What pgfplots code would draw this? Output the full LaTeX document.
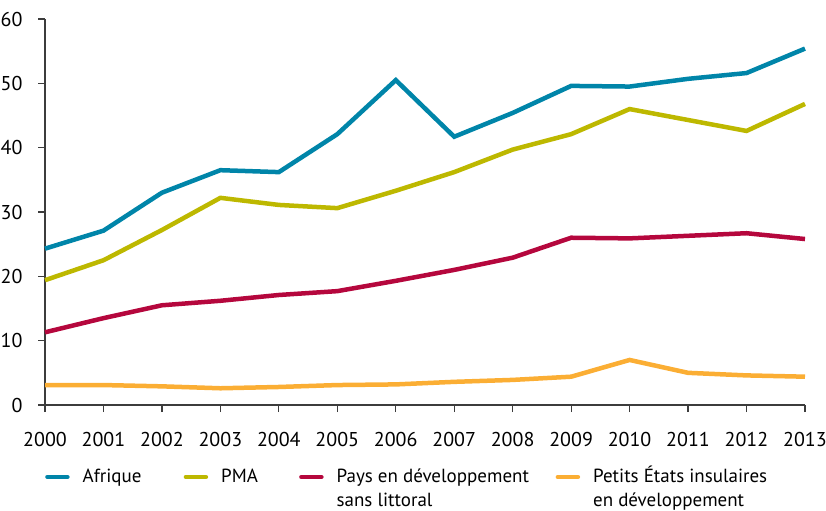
\documentclass[border=0pt]{standalone}
\usepackage{fontspec}
\setmainfont{PT Sans}
\usepackage{pgfplots}
\pgfplotsset{compat=1.18}
\definecolor{cAfr}{HTML}{0085A9}
\definecolor{cPMA}{HTML}{BDB800}
\definecolor{cPays}{HTML}{B5073D}
\definecolor{cPei}{HTML}{FBAE34}
\definecolor{cAx}{HTML}{3C3C3C}
\begin{document}
\fontsize{19bp}{24bp}\selectfont
\begin{tikzpicture}
\path[use as bounding box] (-45bp,-106bp) rectangle (781bp,405bp);
\begin{axis}[
  at={(0,0)}, anchor=south west,
  scale only axis, width=760bp, height=386bp,
  xmin=2000, xmax=2013, ymin=0, ymax=60,
  axis x line*=bottom, axis y line*=left,
  axis line style={cAx, line width=1.2bp},
  xtick={2000,...,2013}, ytick={0,10,...,60},
  tick align=outside, major tick length=7bp,
  tick style={cAx, line width=1.2bp},
  /pgf/number format/set thousands separator={},
  /pgf/number format/assume math mode=true,
  ticklabel style={font=\fontsize{20bp}{24bp}\selectfont, text=black},
  xticklabel style={yshift=-14bp},
  yticklabel style={xshift=-9bp},
  legend style={at={(0,-0.146)}, anchor=north west, xshift=-3bp, draw=none, fill=none,
    legend columns=4, column sep=0pt,
    cells={anchor=base west},
    font=\fontsize{19bp}{24bp}\selectfont},
  legend image code/.code={\draw[#1, line cap=round, line width=4.5bp] (0bp,0.27em) -- (20bp,0.27em); \path (31bp,0.27em);},
  every axis plot/.append style={line width=4.5bp, line join=miter},
  clip=false,
]
\addplot[cAfr] coordinates {(2000,24.3)(2001,27.1)(2002,33.0)(2003,36.5)(2004,36.2)(2005,42.1)(2006,50.5)(2007,41.7)(2008,45.4)(2009,49.6)(2010,49.5)(2011,50.7)(2012,51.6)(2013,55.4)};
\addlegendentry{\makebox[99bp][l]{Afrique}}
\addplot[cPMA] coordinates {(2000,19.4)(2001,22.5)(2002,27.2)(2003,32.2)(2004,31.1)(2005,30.6)(2006,33.3)(2007,36.2)(2008,39.7)(2009,42.1)(2010,46.0)(2011,44.3)(2012,42.6)(2013,46.8)};
\addlegendentry{\makebox[76bp][l]{PMA}}
\addplot[cPays] coordinates {(2000,11.3)(2001,13.5)(2002,15.5)(2003,16.2)(2004,17.1)(2005,17.7)(2006,19.3)(2007,21.0)(2008,22.9)(2009,26.0)(2010,25.9)(2011,26.3)(2012,26.7)(2013,25.8)};
\addlegendentry{\parbox[t]{217bp}{Pays en développement\\sans littoral}}
\addplot[cPei] coordinates {(2000,3.1)(2001,3.1)(2002,2.9)(2003,2.6)(2004,2.8)(2005,3.1)(2006,3.2)(2007,3.6)(2008,3.9)(2009,4.4)(2010,7.0)(2011,5.0)(2012,4.6)(2013,4.4)};
\addlegendentry{\parbox[t]{200bp}{Petits États insulaires\\en développement}}
\end{axis}
\end{tikzpicture}
\end{document}
